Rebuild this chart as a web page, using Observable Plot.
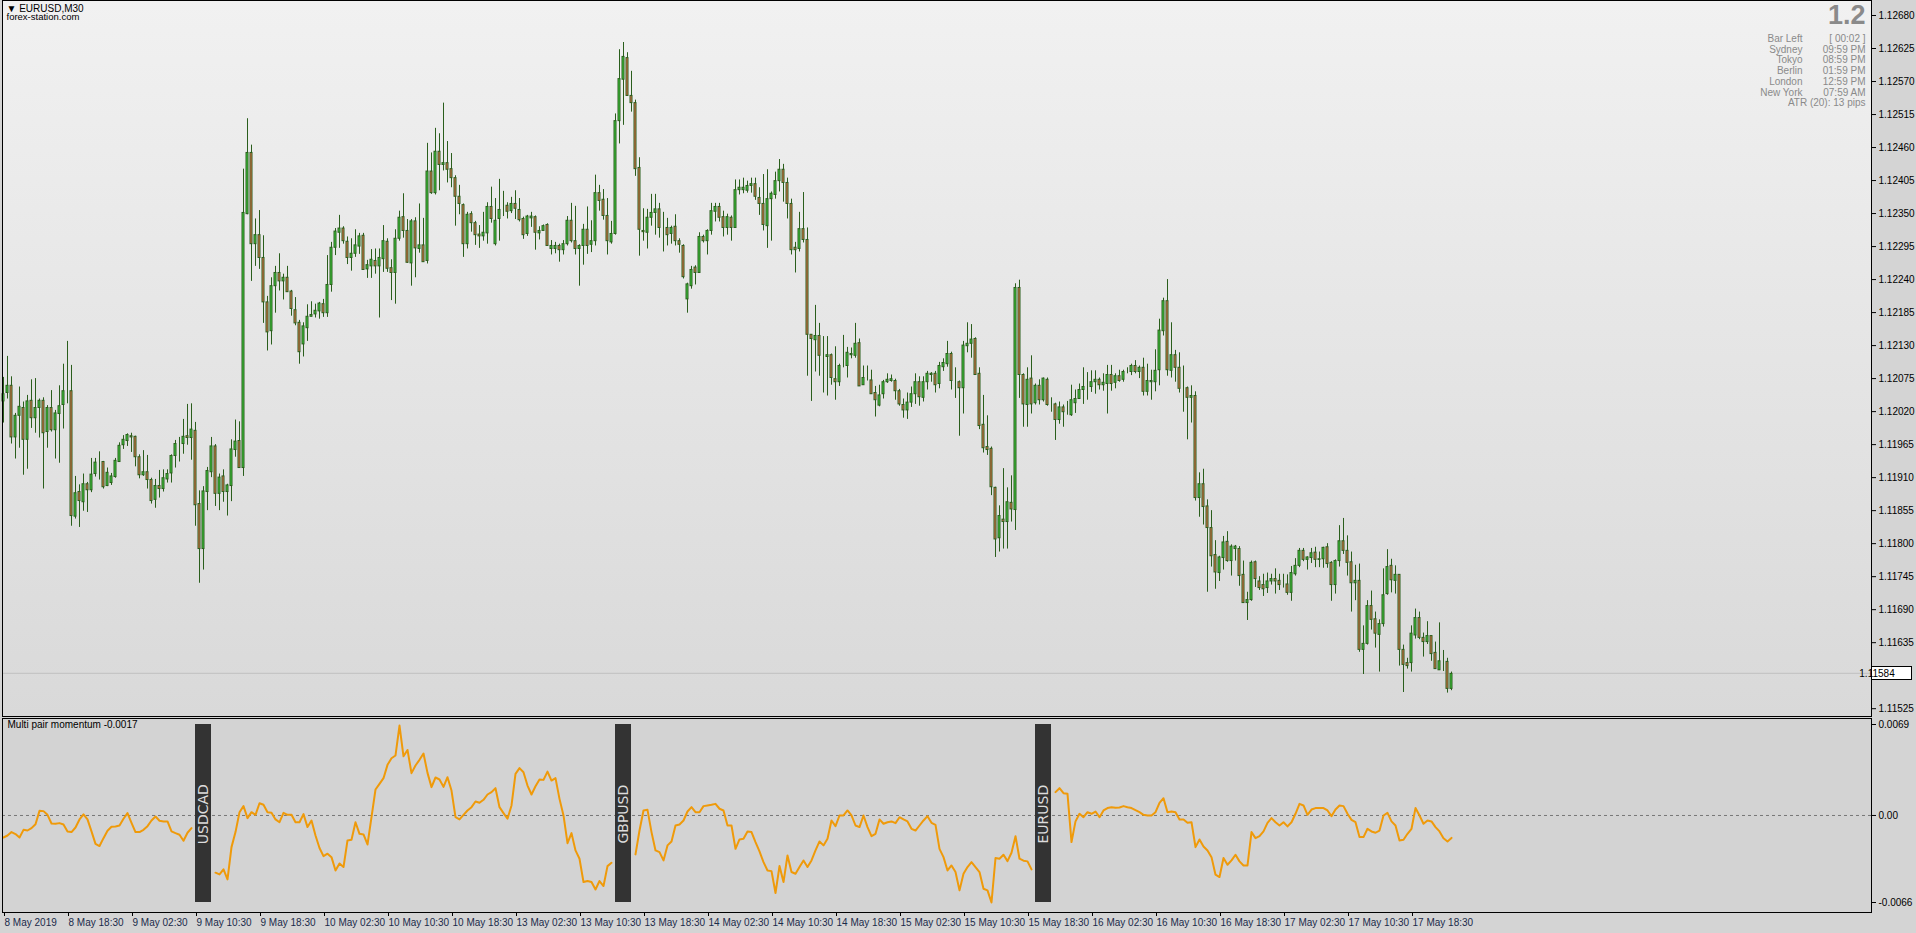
<!DOCTYPE html>
<html><head><meta charset="utf-8">
<script src="https://cdn.jsdelivr.net/npm/d3@7"></script>
<script src="https://cdn.jsdelivr.net/npm/@observablehq/plot@0.6"></script>
<style>
html,body{margin:0;padding:0;background:#d4d4d4;overflow:hidden;}
#wrap{width:1916px;height:933px;}
#wrap svg{display:block;}
</style></head><body><div id="wrap"></div>
<script>
// ---- EURUSD M30 candles (8 May 10:30 .. 17 May 23:30) ----
const open = [
1.12037,1.12051,1.12063,1.11977,1.12013,1.12026,1.11973,1.12038,1.12009,1.12026,
1.12038,1.11986,1.12026,1.11989,1.12016,1.12031,1.12056,1.12054,1.11845,1.11886,
1.11869,1.11899,1.11889,1.11916,1.11936,1.11936,1.11896,1.11901,1.11911,1.11936,
1.11964,1.11971,1.11979,1.11978,1.11944,1.11914,1.11919,1.11906,1.11873,1.11896,
1.11891,1.11907,1.11917,1.11946,1.11966,1.11966,1.11979,1.11976,1.11988,1.11866,
1.11791,1.11886,1.11919,1.11962,1.11883,1.11912,1.11886,1.11896,1.11956,1.11971,
1.11926,1.12349,1.12451,1.12299,1.12314,1.12276,1.12202,1.12154,1.12229,1.12251,
1.12237,1.12243,1.12220,1.12189,1.12168,1.12132,1.12159,1.12178,1.12182,1.12187,
1.12199,1.12184,1.12231,1.12293,1.12318,1.12325,1.12303,1.12276,1.12283,1.12295,
1.12313,1.12257,1.12262,1.12271,1.12262,1.12274,1.12303,1.12259,1.12251,1.12308,
1.12344,1.12321,1.12267,1.12337,1.12291,1.12297,1.12271,1.12420,1.12384,1.12453,
1.12431,1.12434,1.12424,1.12409,1.12378,1.12364,1.12299,1.12349,1.12334,1.12315,
1.12312,1.12317,1.12361,1.12299,1.12341,1.12363,1.12363,1.12354,1.12366,1.12356,
1.12341,1.12316,1.12342,1.12344,1.12317,1.12321,1.12331,1.12291,1.12291,1.12296,
1.12289,1.12299,1.12338,1.12304,1.12291,1.12296,1.12323,1.12298,1.12304,1.12384,
1.12373,1.12346,1.12302,1.12316,1.12504,1.12573,1.12609,1.12546,1.12534,1.12426,
1.12321,1.12318,1.12343,1.12351,1.12357,1.12324,1.12326,1.12316,1.12328,1.12304,
1.12296,1.12207,1.12229,1.12260,1.12251,1.12311,1.12304,1.12321,1.12353,1.12361,
1.12344,1.12326,1.12343,1.12326,1.12389,1.12389,1.12388,1.12396,1.12399,1.12376,
1.12366,1.12329,1.12374,1.12381,1.12404,1.12423,1.12401,1.12366,1.12293,1.12291,
1.12324,1.12306,1.12148,1.12139,1.12146,1.12111,1.12111,1.12114,1.12074,1.12069,
1.12098,1.12096,1.12114,1.12113,1.12134,1.12064,1.12074,1.12072,1.12051,1.12030,
1.12049,1.12069,1.12071,1.12071,1.12054,1.12031,1.12022,1.12035,1.12049,1.12069,
1.12043,1.12069,1.12081,1.12083,1.12066,1.12094,1.12099,1.12116,1.12071,1.12069,
1.12059,1.12129,1.12133,1.12141,1.12083,1.11998,1.11961,1.11958,1.11893,1.11809,
1.11840,1.11836,1.11868,1.11856,1.12226,1.12081,1.12031,1.12075,1.12034,1.12063,
1.12039,1.12073,1.12032,1.12032,1.12006,1.12027,1.12017,1.12014,1.12034,1.12041,
1.12056,1.12061,1.12061,1.12069,1.12073,1.12064,1.12066,1.12081,1.12068,1.12079,
1.12073,1.12086,1.12086,1.12096,1.12086,1.12093,1.12053,1.12069,1.12069,1.12089,
1.12154,1.12204,1.12088,1.12114,1.12093,1.12059,1.12059,1.12043,1.12046,1.11876,
1.11899,1.11862,1.11826,1.11781,1.11751,1.11776,1.11803,1.11771,1.11791,1.11791,
1.11748,1.11701,1.11706,1.11769,1.11737,1.11731,1.11726,1.11737,1.11741,1.11738,
1.11731,1.11732,1.11718,1.11749,1.11763,1.11788,1.11773,1.11776,1.11785,1.11773,
1.11774,1.11794,1.11768,1.11731,1.11771,1.11804,1.11788,1.11769,1.11734,1.11738,
1.11623,1.11633,1.11696,1.11674,1.11648,1.11666,1.11716,1.11763,1.11738,1.11748,
1.11623,1.11601,1.11601,1.11647,1.11676,1.11643,1.11636,1.11646,1.11618,1.11589,
1.11604,1.11603,1.11558];
const high = [
1.12077,1.12112,1.12078,1.12017,1.12061,1.12036,1.12047,1.12073,1.12075,1.12041,
1.12043,1.12030,1.12055,1.12022,1.12063,1.12099,1.12137,1.12097,1.11912,1.11898,
1.11916,1.11902,1.11942,1.11942,1.11953,1.11937,1.11926,1.11917,1.11942,1.11968,
1.11980,1.11983,1.11984,1.11979,1.11948,1.11955,1.11947,1.11909,1.11907,1.11922,
1.11923,1.11923,1.11948,1.11972,1.11977,1.12007,1.12032,1.12033,1.12002,1.11888,
1.11895,1.11927,1.11977,1.11965,1.11916,1.11923,1.11899,1.11973,1.12006,1.12003,
1.12424,1.12508,1.12464,1.12341,1.12355,1.12313,1.12212,1.12243,1.12262,1.12283,
1.12249,1.12262,1.12222,1.12210,1.12172,1.12168,1.12198,1.12203,1.12199,1.12202,
1.12207,1.12280,1.12302,1.12325,1.12347,1.12328,1.12311,1.12308,1.12323,1.12317,
1.12317,1.12272,1.12290,1.12291,1.12291,1.12330,1.12308,1.12273,1.12323,1.12354,
1.12383,1.12340,1.12340,1.12343,1.12366,1.12342,1.12467,1.12451,1.12492,1.12483,
1.12534,1.12470,1.12450,1.12413,1.12397,1.12366,1.12352,1.12353,1.12337,1.12330,
1.12352,1.12368,1.12394,1.12375,1.12407,1.12387,1.12368,1.12377,1.12388,1.12375,
1.12344,1.12347,1.12352,1.12346,1.12328,1.12331,1.12333,1.12305,1.12302,1.12299,
1.12305,1.12345,1.12367,1.12362,1.12298,1.12332,1.12361,1.12338,1.12414,1.12397,
1.12390,1.12375,1.12337,1.12516,1.12623,1.12635,1.12618,1.12587,1.12539,1.12443,
1.12358,1.12357,1.12382,1.12382,1.12367,1.12352,1.12342,1.12329,1.12348,1.12308,
1.12298,1.12234,1.12262,1.12263,1.12318,1.12314,1.12323,1.12367,1.12367,1.12367,
1.12354,1.12349,1.12346,1.12406,1.12406,1.12409,1.12404,1.12409,1.12409,1.12393,
1.12415,1.12423,1.12386,1.12419,1.12440,1.12432,1.12409,1.12374,1.12302,1.12352,
1.12385,1.12326,1.12148,1.12197,1.12167,1.12145,1.12145,1.12116,1.12128,1.12099,
1.12147,1.12127,1.12126,1.12167,1.12141,1.12096,1.12096,1.12089,1.12062,1.12064,
1.12072,1.12083,1.12081,1.12074,1.12057,1.12041,1.12051,1.12061,1.12083,1.12078,
1.12078,1.12087,1.12085,1.12087,1.12102,1.12108,1.12137,1.12119,1.12093,1.12071,
1.12137,1.12168,1.12165,1.12143,1.12093,1.12047,1.12013,1.11961,1.11894,1.11863,
1.11925,1.11893,1.11913,1.12233,1.12239,1.12083,1.12093,1.12113,1.12066,1.12073,
1.12076,1.12076,1.12043,1.12034,1.12036,1.12031,1.12037,1.12064,1.12056,1.12066,
1.12093,1.12085,1.12088,1.12088,1.12076,1.12083,1.12097,1.12097,1.12083,1.12089,
1.12089,1.12093,1.12099,1.12105,1.12096,1.12109,1.12099,1.12089,1.12123,1.12174,
1.12209,1.12240,1.12168,1.12122,1.12118,1.12096,1.12061,1.12063,1.12053,1.11918,
1.11924,1.11873,1.11855,1.11805,1.11779,1.11812,1.11820,1.11798,1.11797,1.11795,
1.11771,1.11719,1.11771,1.11771,1.11745,1.11749,1.11751,1.11749,1.11758,1.11749,
1.11749,1.11748,1.11762,1.11775,1.11792,1.11792,1.11778,1.11792,1.11794,1.11786,
1.11794,1.11800,1.11770,1.11773,1.11830,1.11842,1.11813,1.11786,1.11764,1.11766,
1.11663,1.11705,1.11721,1.11686,1.11673,1.11758,1.11790,1.11774,1.11763,1.11748,
1.11631,1.11609,1.11663,1.11691,1.11686,1.11651,1.11670,1.11646,1.11636,1.11668,
1.11622,1.11609,1.11586];
const low = [
1.12001,1.12041,1.11966,1.11941,1.11959,1.11914,1.11924,1.11992,1.11984,1.11976,
1.11891,1.11959,1.11986,1.11941,1.11934,1.11991,1.12033,1.11829,1.11841,1.11827,
1.11854,1.11852,1.11885,1.11911,1.11906,1.11891,1.11895,1.11897,1.11909,1.11936,
1.11957,1.11962,1.11952,1.11928,1.11908,1.11912,1.11891,1.11866,1.11859,1.11876,
1.11886,1.11901,1.11901,1.11926,1.11936,1.11949,1.11964,1.11939,1.11829,1.11734,
1.11756,1.11855,1.11910,1.11862,1.11855,1.11869,1.11846,1.11870,1.11944,1.11926,
1.11912,1.12348,1.12237,1.12262,1.12257,1.12167,1.12121,1.12131,1.12184,1.12221,
1.12206,1.12219,1.12179,1.12163,1.12099,1.12111,1.12137,1.12178,1.12176,1.12174,
1.12177,1.12177,1.12219,1.12280,1.12292,1.12299,1.12265,1.12254,1.12277,1.12282,
1.12256,1.12242,1.12242,1.12249,1.12176,1.12252,1.12252,1.12205,1.12199,1.12304,
1.12309,1.12267,1.12229,1.12243,1.12284,1.12269,1.12266,1.12382,1.12381,1.12388,
1.12421,1.12401,1.12393,1.12329,1.12348,1.12277,1.12291,1.12319,1.12297,1.12292,
1.12304,1.12299,1.12334,1.12296,1.12304,1.12345,1.12341,1.12350,1.12340,1.12336,
1.12307,1.12312,1.12327,1.12289,1.12306,1.12321,1.12296,1.12281,1.12283,1.12269,
1.12281,1.12296,1.12301,1.12281,1.12229,1.12264,1.12282,1.12285,1.12296,1.12354,
1.12339,1.12281,1.12299,1.12314,1.12466,1.12497,1.12546,1.12519,1.12412,1.12279,
1.12304,1.12291,1.12329,1.12314,1.12309,1.12286,1.12296,1.12299,1.12296,1.12284,
1.12241,1.12184,1.12224,1.12231,1.12251,1.12301,1.12281,1.12314,1.12336,1.12336,
1.12311,1.12314,1.12304,1.12326,1.12381,1.12383,1.12384,1.12384,1.12372,1.12347,
1.12321,1.12292,1.12304,1.12374,1.12386,1.12369,1.12341,1.12281,1.12251,1.12286,
1.12301,1.12079,1.12037,1.12086,1.12079,1.12051,1.12046,1.12064,1.12039,1.12062,
1.12093,1.12076,1.12108,1.12109,1.12062,1.12064,1.12071,1.12049,1.12011,1.12028,
1.12041,1.12067,1.12069,1.12039,1.12029,1.12009,1.12007,1.12027,1.12032,1.12029,
1.12036,1.12056,1.12069,1.12051,1.12058,1.12087,1.12094,1.12056,1.12042,1.11979,
1.12016,1.12118,1.12109,1.12081,1.11990,1.11951,1.11947,1.11880,1.11777,1.11786,
1.11791,1.11791,1.11836,1.11822,1.12042,1.11994,1.11994,1.12016,1.12031,1.12031,
1.12036,1.12029,1.12019,1.11972,1.11999,1.11994,1.12014,1.12012,1.12017,1.12041,
1.12032,1.12039,1.12052,1.12049,1.12056,1.12054,1.12016,1.12054,1.12058,1.12069,
1.12069,1.12083,1.12080,1.12083,1.12075,1.12046,1.12046,1.12039,1.12053,1.12063,
1.12146,1.12079,1.12076,1.12069,1.12051,1.12019,1.11973,1.12001,1.11871,1.11844,
1.11831,1.11719,1.11761,1.11724,1.11737,1.11756,1.11769,1.11746,1.11771,1.11729,
1.11701,1.11672,1.11704,1.11727,1.11722,1.11712,1.11717,1.11731,1.11716,1.11722,
1.11726,1.11714,1.11704,1.11746,1.11760,1.11770,1.11756,1.11767,1.11760,1.11760,
1.11759,1.11759,1.11704,1.11716,1.11761,1.11782,1.11746,1.11686,1.11705,1.11619,
1.11582,1.11631,1.11656,1.11626,1.11586,1.11661,1.11714,1.11718,1.11716,1.11596,
1.11552,1.11591,1.11586,1.11641,1.11640,1.11611,1.11632,1.11604,1.11591,1.11589,
1.11587,1.11551,1.11555];
const close = [
1.12049,1.12063,1.11977,1.12013,1.12028,1.11973,1.12037,1.12009,1.12026,1.12038,
1.11984,1.12026,1.11989,1.12017,1.12029,1.12054,1.12056,1.11846,1.11884,1.11871,
1.11899,1.11889,1.11915,1.11935,1.11936,1.11894,1.11918,1.11912,1.11938,1.11963,
1.11973,1.11981,1.11977,1.11944,1.11914,1.11919,1.11906,1.11871,1.11896,1.11891,
1.11909,1.11916,1.11946,1.11966,1.11966,1.11978,1.11976,1.11990,1.11864,1.11791,
1.11887,1.11921,1.11962,1.11883,1.11910,1.11886,1.11897,1.11957,1.11970,1.11926,
1.12351,1.12451,1.12299,1.12314,1.12276,1.12202,1.12152,1.12229,1.12251,1.12237,
1.12243,1.12219,1.12191,1.12167,1.12119,1.12162,1.12178,1.12181,1.12188,1.12200,
1.12184,1.12231,1.12293,1.12320,1.12325,1.12304,1.12276,1.12283,1.12297,1.12312,
1.12256,1.12264,1.12273,1.12262,1.12276,1.12304,1.12258,1.12251,1.12308,1.12343,
1.12321,1.12268,1.12337,1.12292,1.12297,1.12269,1.12420,1.12384,1.12453,1.12431,
1.12434,1.12423,1.12409,1.12378,1.12366,1.12299,1.12348,1.12334,1.12314,1.12312,
1.12318,1.12361,1.12341,1.12338,1.12356,1.12363,1.12353,1.12366,1.12358,1.12339,
1.12314,1.12345,1.12345,1.12318,1.12321,1.12329,1.12296,1.12296,1.12296,1.12289,
1.12299,1.12338,1.12304,1.12291,1.12296,1.12323,1.12296,1.12304,1.12384,1.12371,
1.12346,1.12304,1.12316,1.12504,1.12574,1.12611,1.12546,1.12534,1.12424,1.12323,
1.12319,1.12343,1.12351,1.12357,1.12326,1.12324,1.12314,1.12326,1.12304,1.12298,
1.12244,1.12232,1.12256,1.12251,1.12311,1.12304,1.12321,1.12354,1.12361,1.12343,
1.12326,1.12344,1.12326,1.12389,1.12393,1.12393,1.12396,1.12399,1.12378,1.12366,
1.12331,1.12374,1.12383,1.12404,1.12423,1.12401,1.12366,1.12289,1.12289,1.12324,
1.12306,1.12148,1.12141,1.12146,1.12113,1.12111,1.12114,1.12076,1.12069,1.12096,
1.12098,1.12118,1.12116,1.12133,1.12062,1.12076,1.12074,1.12049,1.12039,1.12047,
1.12069,1.12073,1.12074,1.12054,1.12032,1.12022,1.12035,1.12049,1.12069,1.12044,
1.12069,1.12083,1.12083,1.12064,1.12096,1.12101,1.12116,1.12071,1.12071,1.12059,
1.12130,1.12133,1.12140,1.12081,1.11996,1.11959,1.11956,1.11894,1.11807,1.11846,
1.11836,1.11869,1.11857,1.12226,1.12081,1.12032,1.12073,1.12032,1.12063,1.12039,
1.12075,1.12031,1.12032,1.12006,1.12027,1.12019,1.12017,1.12039,1.12041,1.12056,
1.12061,1.12061,1.12069,1.12073,1.12064,1.12068,1.12081,1.12066,1.12079,1.12071,
1.12086,1.12086,1.12096,1.12086,1.12093,1.12053,1.12071,1.12071,1.12088,1.12155,
1.12204,1.12089,1.12114,1.12093,1.12058,1.12059,1.12043,1.12046,1.11876,1.11899,
1.11861,1.11826,1.11779,1.11752,1.11777,1.11802,1.11771,1.11795,1.11795,1.11746,
1.11701,1.11706,1.11768,1.11741,1.11726,1.11724,1.11737,1.11741,1.11737,1.11731,
1.11731,1.11718,1.11751,1.11763,1.11788,1.11773,1.11777,1.11784,1.11773,1.11774,
1.11793,1.11766,1.11731,1.11771,1.11804,1.11788,1.11768,1.11734,1.11738,1.11623,
1.11633,1.11696,1.11673,1.11650,1.11666,1.11714,1.11761,1.11739,1.11748,1.11623,
1.11598,1.11596,1.11650,1.11676,1.11643,1.11636,1.11646,1.11616,1.11591,1.11604,
1.11604,1.11558,1.11583];

// ---- Multi pair momentum (null = hidden behind the pair labels) ----
const momentum = [
-0.00167,-0.00152,-0.00126,-0.00141,-0.00167,-0.00109,-0.00114,-0.00096,-0.00066,0.00035,
0.00033,0.00005,-0.00061,-0.00063,-0.00058,-0.00068,-0.00121,-0.00126,-0.00091,-0.00030,
0.00008,-0.00030,-0.00121,-0.00215,-0.00232,-0.00172,-0.00116,-0.00086,-0.00083,-0.00076,
-0.00025,0.00018,-0.00056,-0.00126,-0.00126,-0.00109,-0.00081,-0.00038,-0.00008,-0.00040,
-0.00045,-0.00045,-0.00121,-0.00134,-0.00146,-0.00192,-0.00131,-0.00096,null,null,
null,null,null,-0.00434,-0.00447,-0.00409,-0.00485,-0.00240,-0.00126,0.00025,
0.00071,-0.00020,0.00025,0.00005,0.00093,0.00081,0.00025,0.00020,-0.00030,-0.00051,
0.00020,0.00005,0.00005,-0.00051,-0.00051,0.00010,-0.00088,-0.00038,-0.00152,-0.00247,
-0.00308,-0.00290,-0.00316,-0.00417,-0.00364,-0.00391,-0.00189,-0.00184,-0.00051,-0.00139,
-0.00144,-0.00220,-0.00013,0.00197,0.00240,0.00283,0.00384,0.00434,0.00455,0.00682,
0.00449,0.00497,0.00321,0.00379,0.00422,0.00470,0.00323,0.00215,0.00288,0.00273,
0.00217,0.00290,0.00189,-0.00013,-0.00030,0.00005,0.00038,0.00063,0.00106,0.00096,
0.00119,0.00159,0.00177,0.00207,0.00063,0.00018,-0.00025,0.00076,0.00316,0.00359,
0.00328,0.00227,0.00159,0.00222,0.00273,0.00270,0.00333,0.00265,0.00283,0.00126,
0.00000,-0.00210,-0.00134,-0.00265,-0.00328,-0.00505,-0.00497,-0.00505,-0.00561,-0.00497,
-0.00535,-0.00384,-0.00359,null,null,null,null,null,-0.00295,-0.00114,
0.00038,0.00043,-0.00126,-0.00265,-0.00278,-0.00341,-0.00227,-0.00197,-0.00076,-0.00068,
-0.00038,0.00030,0.00063,0.00025,0.00025,0.00071,0.00076,0.00081,0.00088,0.00051,
0.00038,-0.00076,-0.00076,-0.00253,-0.00182,-0.00177,-0.00121,-0.00126,-0.00202,-0.00273,
-0.00354,-0.00417,-0.00422,-0.00588,-0.00384,-0.00505,-0.00303,-0.00429,-0.00442,-0.00391,
-0.00341,-0.00391,-0.00341,-0.00265,-0.00197,-0.00227,-0.00177,-0.00038,-0.00081,0.00000,
0.00000,0.00038,0.00000,-0.00076,-0.00088,0.00000,-0.00088,-0.00157,-0.00139,-0.00030,
-0.00063,-0.00051,-0.00045,-0.00058,-0.00013,-0.00030,-0.00045,-0.00101,-0.00114,-0.00076,
-0.00038,-0.00005,-0.00056,-0.00071,-0.00253,-0.00316,-0.00417,-0.00379,-0.00429,-0.00568,
-0.00442,-0.00391,-0.00354,-0.00391,-0.00429,-0.00556,-0.00568,-0.00660,-0.00323,-0.00328,
-0.00298,-0.00346,-0.00283,-0.00157,-0.00328,-0.00343,-0.00348,-0.00409,null,null,
null,null,null,0.00177,0.00207,0.00169,0.00164,-0.00202,-0.00045,0.00013,
-0.00013,0.00025,0.00013,0.00030,-0.00013,0.00038,0.00056,0.00063,0.00058,0.00061,
0.00071,0.00063,0.00056,0.00040,0.00025,0.00005,0.00000,0.00000,0.00025,0.00096,
0.00131,0.00025,0.00030,0.00025,-0.00030,-0.00030,-0.00056,-0.00051,-0.00240,-0.00182,
-0.00235,-0.00265,-0.00316,-0.00449,-0.00467,-0.00323,-0.00374,-0.00341,-0.00298,-0.00348,
-0.00379,-0.00379,-0.00126,-0.00172,-0.00157,-0.00121,-0.00056,-0.00020,-0.00051,-0.00076,
-0.00051,-0.00083,-0.00051,0.00013,0.00088,0.00076,0.00005,0.00045,0.00056,0.00056,
0.00056,0.00038,-0.00005,0.00045,0.00076,0.00071,0.00013,-0.00033,-0.00051,-0.00164,
-0.00164,-0.00101,-0.00121,-0.00131,-0.00114,0.00000,0.00020,-0.00045,-0.00076,-0.00189,
-0.00184,-0.00139,-0.00101,0.00056,0.00000,-0.00063,-0.00038,-0.00045,-0.00088,-0.00121,
-0.00172,-0.00197,-0.00170];

// pair label boxes (bar index ranges)
const pairNames = ["USDCAD", "GBPUSD", "EURUSD"];
const pairFrom = [48, 153, 258];
const pairTo = [52, 157, 262];

// axes
const priceTicks = [1.12680,1.12625,1.12570,1.12515,1.12460,1.12405,1.12350,1.12295,1.12240,1.12185,
  1.12130,1.12075,1.12020,1.11965,1.11910,1.11855,1.11800,1.11745,1.11690,1.11635,1.11525];
const currentPrice = 1.11584;
const momTicks = [0.0069, 0, -0.0066];
const momTickLabels = ["0.0069", "0.00", "-0.0066"];
const timeTickBars = [0,16,32,48,64,80,96,112,128,144,160,176,192,208,224,240,256,272,288,304,320,336,352];
const timeLabels = ["8 May 2019","8 May 18:30","9 May 02:30","9 May 10:30","9 May 18:30","10 May 02:30",
  "10 May 10:30","10 May 18:30","13 May 02:30","13 May 10:30","13 May 18:30","14 May 02:30","14 May 10:30",
  "14 May 18:30","15 May 02:30","15 May 10:30","15 May 18:30","16 May 02:30","16 May 10:30","16 May 18:30",
  "17 May 02:30","17 May 10:30","17 May 18:30"];
const infoNames = ["Bar Left","Sydney","Tokyo","Berlin","London","New York"];
const infoValues = ["[ 00:02 ]","09:59 PM","08:59 PM","01:59 PM","12:59 PM","07:59 AM"];
const atrText = "ATR (20): 13 pips";
const bigNumber = "1.2";
const symbolText = "\u25BC EURUSD,M30";
const brandText = "forex-station.com";
const indicatorTitle = "Multi pair momentum -0.0017";

// ---- build ----
const bars = close.map((c, i) => ({i, o: open[i], h: high[i], l: low[i], c}));
const W = 1916;
const xDomain = [-0.25, 467];
const FONT = "Liberation Sans, Arial, sans-serif";
const bull = "#3dcc3d", bear = "#e8714a", edge = "#2a5e1c";

const main = Plot.plot({
  width: W, height: 716,
  marginLeft: 2, marginRight: 45, marginTop: 0, marginBottom: 0,
  style: {background: "#d4d4d4", fontFamily: FONT, fontSize: "10px", color: "black", overflow: "visible"},
  x: {domain: xDomain, axis: null},
  y: {domain: [1.11512, 1.12705], range: [716, 0], axis: null},
  color: {type: "identity"},
  marks: [
    Plot.frame({fill: "url(#mainbg)", stroke: null}),
    Plot.ruleY([currentPrice], {stroke: "#c0c0c0"}),
    Plot.ruleX(bars, {x: "i", y1: "l", y2: "h", stroke: edge, strokeWidth: 1}),
    Plot.rect(bars, {x1: d => d.i - 0.25, x2: d => d.i + 0.25, y1: "o", y2: "c",
      fill: d => d.c >= d.o ? bull : bear, stroke: edge, strokeWidth: 1}),
    Plot.frame({stroke: "black"}),
    Plot.axisY(priceTicks, {anchor: "right", tickSize: 4, tickPadding: 3,
      tickFormat: d => d.toFixed(5), fontSize: 10, fill: "black"}),
    (index, scales, values, dims) => {
      const y = Math.round(scales.y(currentPrice));
      const x0 = dims.width - dims.marginRight;
      const g = d3.create("svg:g");
      g.append("rect").attr("x", x0 + 0.5).attr("y", y - 6.5).attr("width", 40).attr("height", 13)
        .attr("fill", "white").attr("stroke", "black");
      g.append("text").attr("x", x0 + 6).attr("y", y).attr("dy", "0.35em")
        .attr("font-size", 10).attr("fill", "black").text(currentPrice.toFixed(5));
      return g.node();
    },
    Plot.text([symbolText], {frameAnchor: "top-left", dx: 4, dy: 4, fontSize: 10, fill: "black", textAnchor: "start", lineAnchor: "top"}),
    Plot.text([brandText], {frameAnchor: "top-left", dx: 4, dy: 13, fontSize: 9.5, fill: "black", textAnchor: "start", lineAnchor: "top"}),
    Plot.text([bigNumber], {frameAnchor: "top-right", dx: -6, dy: 4, fontSize: 27, fontWeight: "bold", fill: "#8a8a8a", textAnchor: "end", lineAnchor: "top"}),
    Plot.text([infoNames.join("\n")], {frameAnchor: "top-right", dx: -69, dy: 34, fontSize: 10, lineHeight: 1.07, fill: "#8a8a8a", textAnchor: "end", lineAnchor: "top"}),
    Plot.text([infoValues.join("\n")], {frameAnchor: "top-right", dx: -6, dy: 34, fontSize: 10, lineHeight: 1.07, fill: "#8a8a8a", textAnchor: "end", lineAnchor: "top"}),
    Plot.text([atrText], {frameAnchor: "top-right", dx: -6, dy: 98, fontSize: 10, fill: "#8a8a8a", textAnchor: "end", lineAnchor: "top"})
  ]
});
const defs = document.createElementNS("http://www.w3.org/2000/svg", "defs");
defs.innerHTML = '<linearGradient id="mainbg" x1="0" y1="0" x2="0" y2="1"><stop offset="0" stop-color="#f1f1f1"/><stop offset="1" stop-color="#d9d9d9"/></linearGradient>';
main.insertBefore(defs, main.firstChild);

const pairs = pairNames.map((name, k) => ({name, from: pairFrom[k], to: pairTo[k]}));
const momMin = momTicks[2], momMax = momTicks[0];

const ind = Plot.plot({
  width: W, height: 217,
  marginLeft: 2, marginRight: 45, marginTop: 2, marginBottom: 21,
  style: {background: "#d4d4d4", fontFamily: FONT, fontSize: "10px", color: "black", overflow: "visible"},
  x: {domain: xDomain, axis: null},
  y: {domain: [momMin, momMax], range: [186, 8], axis: null},
  marks: [
    Plot.frame({fill: "#d3d3d3", stroke: null}),
    Plot.ruleY([0], {stroke: "#777", strokeDasharray: "3,3"}),
    Plot.line(momentum, {x: (d, i) => i, y: d => d, stroke: "#ef9a0a", strokeWidth: 2}),
    Plot.rect(pairs, {x1: "from", x2: "to", y1: () => momMin, y2: () => momMax, fill: "#333333"}),
    Plot.text(pairs, {x: d => (d.from + d.to) / 2, y: () => 0.0001, text: "name", rotate: -90,
      fill: "#dcdcdc", fontSize: 14, fontFamily: "DejaVu Sans"}),
    Plot.frame({stroke: "black"}),
    Plot.axisY(momTicks, {anchor: "right", tickSize: 4, tickPadding: 3,
      tickFormat: (d, i) => momTickLabels[i], fontSize: 10, fill: "black"}),
    Plot.axisX(timeTickBars, {anchor: "bottom", tickSize: 4, tickPadding: 2,
      tickFormat: (d, i) => timeLabels[i], textAnchor: "start", dx: 1, fontSize: 10, fill: "#1a2a4a"}),
    Plot.text([indicatorTitle], {frameAnchor: "top-left", dx: 5, dy: 2, fontSize: 10, fill: "black", textAnchor: "start", lineAnchor: "top"})
  ]
});

const wrap = document.getElementById("wrap");
wrap.appendChild(main);
wrap.appendChild(ind);
</script>
</body></html>
